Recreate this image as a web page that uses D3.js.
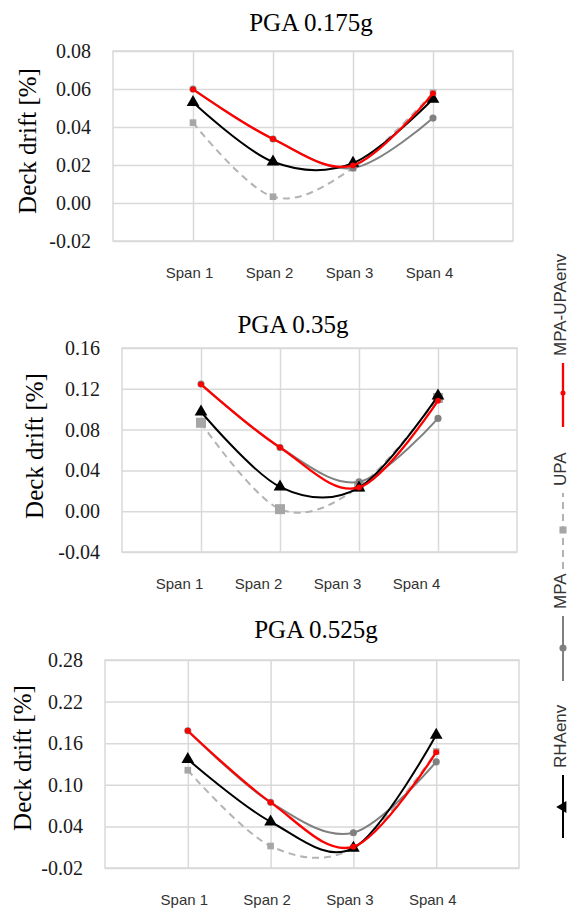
<!DOCTYPE html>
<html>

<head>
    <meta charset="UTF-8">
    <title>Deck drift</title>
    <style>
        body { margin: 0; background: #fff; }
    </style>
</head>

<body>
    <script src="https://cdn.jsdelivr.net/npm/d3@7"></script>

    <svg id="chart" width="576" height="911"></svg>

    <script>
        // data
        const spans = ["Span 1", "Span 2", "Span 3", "Span 4"];
        const seriesNames = ["RHAenv", "MPA", "UPA", "MPA-UPAenv"];
        const titles = ["PGA 0.175g", "PGA 0.35g", "PGA 0.525g"];

        const rha175 = [0.053, 0.0217, 0.021, 0.0547];
        const mpa175 = [0.060, 0.0337, 0.0184, 0.0447];
        const upa175 = [0.0423, 0.0033, 0.0184, 0.058];
        const env175 = [0.0598, 0.0337, 0.0198, 0.0577];

        const rha35 = [0.0975, 0.0239, 0.023, 0.113];
        const mpa35 = [0.1247, 0.0625, 0.0288, 0.091];
        const upa35 = [0.0867, 0.002, 0.024, 0.111];
        const env35 = [0.1244, 0.0625, 0.0233, 0.1083];

        const rha525 = [0.1367, 0.0467, 0.0087, 0.1717];
        const mpa525 = [0.178, 0.0747, 0.0309, 0.133];
        const upa525 = [0.121, 0.0117, 0.009, 0.148];
        const env525 = [0.178, 0.0747, 0.0107, 0.147];

        const ticks175 = [-0.02, 0, 0.02, 0.04, 0.06, 0.08];
        const ticks35 = [-0.04, 0, 0.04, 0.08, 0.12, 0.16];
        const ticks525 = [-0.02, 0.04, 0.10, 0.16, 0.22, 0.28];

        // layout of the three panels
        const panels = [
            { title: titles[0], ticks: ticks175, data: [rha175, mpa175, upa175, env175],
              l: 113, t: 51, r: 513, b: 241, tx: 311, ty: 31, lx: 27, ly: 141, shift: -4, sq: 44 },
            { title: titles[1], ticks: ticks35, data: [rha35, mpa35, upa35, env35],
              l: 122, t: 348, r: 517, b: 552, tx: 293, ty: 333, lx: 34, ly: 446, shift: -22, sq: 100 },
            { title: titles[2], ticks: ticks525, data: [rha525, mpa525, upa525, env525],
              l: 105, t: 660, r: 519, b: 868, tx: 316, ty: 638, lx: 22, ly: 758, shift: -4, sq: 44 }
        ];

        const styles = {
            "RHAenv": { color: "#000", width: 2, dash: null, symbol: d3.symbolTriangle, fill: "#000" },
            "MPA": { color: "#808080", width: 2, dash: null, symbol: d3.symbolCircle, fill: "#808080" },
            "UPA": { color: "#b3b3b3", width: 2, dash: "7,5", symbol: d3.symbolSquare, fill: "#a6a6a6" },
            "MPA-UPAenv": { color: "#ff0000", width: 2.3, dash: null, symbol: d3.symbolCircle, fill: "#ff0000" }
        };
        const drawOrder = ["UPA", "MPA", "RHAenv", "MPA-UPAenv"];

        const svg = d3.select("#chart");
        const grid = "#d9d9d9";

        panels.forEach(p => {
            const w = p.r - p.l, h = p.b - p.t;
            const x = d3.scaleLinear().domain([0, 5]).range([p.l, p.r]);
            const y = d3.scaleLinear().domain([p.ticks[0], p.ticks[p.ticks.length - 1]]).range([p.b, p.t]);

            // horizontal grid + tick labels
            const ga = svg.append("g")
                .attr("transform", `translate(${p.l},0)`)
                .call(d3.axisLeft(y).tickValues(p.ticks).tickSize(-w).tickPadding(22)
                    .tickFormat(d => d.toFixed(2)));
            ga.select(".domain").remove();
            ga.selectAll("line").attr("stroke", grid).attr("stroke-width", 1.5);
            ga.selectAll("text")
                .attr("font-family", "'Liberation Serif', 'Times New Roman', serif")
                .attr("font-size", 20).attr("fill", "#1a1a1a");

            // vertical grid + span labels
            const gx = svg.append("g")
                .attr("transform", `translate(0,${p.b})`)
                .call(d3.axisBottom(x).tickValues([1, 2, 3, 4]).tickSize(-h)
                    .tickFormat(d => spans[d - 1]));
            gx.select(".domain").remove();
            gx.selectAll("line").attr("stroke", grid).attr("stroke-width", 1.5);
            gx.selectAll("text")
                .attr("x", p.shift).attr("y", 37).attr("dy", 0)
                .attr("font-family", "'Liberation Sans', Arial, sans-serif")
                .attr("font-size", 15).attr("fill", "#333");

            // plot border
            svg.append("rect")
                .attr("x", p.l).attr("y", p.t).attr("width", w).attr("height", h)
                .attr("fill", "none").attr("stroke", grid).attr("stroke-width", 1.5);

            // title
            svg.append("text")
                .attr("x", p.tx).attr("y", p.ty)
                .attr("text-anchor", "middle")
                .attr("font-family", "'Liberation Serif', 'Times New Roman', serif")
                .attr("font-size", 25).attr("fill", "#000")
                .text(p.title);

            // y axis title
            svg.append("text")
                .attr("transform", `translate(${p.lx},${p.ly}) rotate(-90)`)
                .attr("text-anchor", "middle")
                .attr("dy", "0.35em")
                .attr("font-family", "'Liberation Serif', 'Times New Roman', serif")
                .attr("font-size", 25).attr("fill", "#000")
                .text("Deck drift [%]");

            const line = d3.line()
                .x((d, i) => x(i + 1))
                .y(d => y(d))
                .curve(d3.curveCardinal.tension(0));

            drawOrder.forEach(name => {
                const s = styles[name];
                const vals = p.data[seriesNames.indexOf(name)];
                svg.append("path")
                    .datum(vals)
                    .attr("d", line)
                    .attr("fill", "none")
                    .attr("stroke", s.color)
                    .attr("stroke-width", s.width)
                    .attr("stroke-dasharray", s.dash);

                let size = 40;
                if (name === "RHAenv") size = 70;
                if (name === "UPA") size = p.sq;
                if (name === "MPA-UPAenv") size = 26;

                svg.append("g").selectAll("path")
                    .data(vals)
                    .join("path")
                    .attr("transform", (d, i) => `translate(${x(i + 1)},${y(d)})`)
                    .attr("d", d3.symbol().type(s.symbol).size(size))
                    .attr("fill", s.fill);
            });
        });

        // legend, rotated along the right edge
        const legendItems = [
            { name: "RHAenv", from: 838, to: 775, mark: 807 },
            { name: "MPA", from: 681, to: 616, mark: 648 },
            { name: "UPA", from: 569, to: 493, mark: 530 },
            { name: "MPA-UPAenv", from: 427, to: 363, mark: 393 }
        ];
        const lg = svg.append("g").attr("transform", "translate(563,0) rotate(-90)");
        legendItems.forEach(it => {
            const s = styles[it.name];
            lg.append("line")
                .attr("x1", -it.from).attr("x2", -it.to)
                .attr("y1", 0).attr("y2", 0)
                .attr("stroke", s.color).attr("stroke-width", s.width)
                .attr("stroke-dasharray", s.dash);
            let size = 40;
            if (it.name === "RHAenv") size = 60;
            if (it.name === "UPA") size = 50;
            if (it.name === "MPA-UPAenv") size = 20;
            lg.append("path")
                .attr("transform", `translate(${-it.mark},0)`)
                .attr("d", d3.symbol().type(s.symbol).size(size))
                .attr("fill", s.fill);
            lg.append("text")
                .attr("x", -it.to + 7).attr("y", -3)
                .attr("dy", "0.35em")
                .attr("font-family", "'Liberation Sans', Arial, sans-serif")
                .attr("font-size", 17).attr("fill", "#333")
                .text(it.name);
        });
    </script>

</body>

</html>
